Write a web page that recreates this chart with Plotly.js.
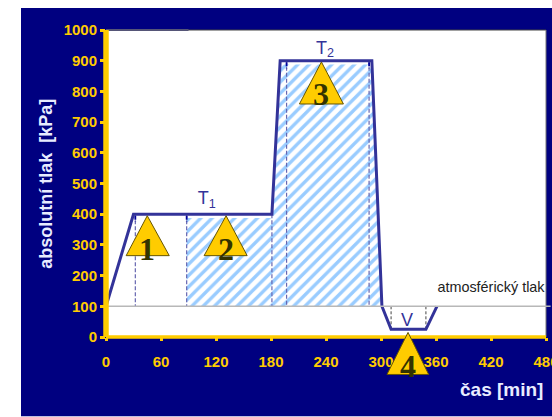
<!DOCTYPE html>
<html><head><meta charset="utf-8">
<script src="https://cdn.plot.ly/plotly-3.0.1.min.js"></script>
<style>html,body{margin:0;padding:0;background:#fff;overflow:hidden}</style></head>
<body><div id="c" style="width:552px;height:417px"></div>
<script>
const profileX=[0,30,181,190,290,301,311,349,361];
const profileY=[100,400,400,900,900,100,25,25,100];
const hatchX=[88,88,182,191,289,300];
const hatchY=[100,388,388,888,888,100];
const atmX=[0,485];
const atmY=[100,100];
const dashBlueX=[32,32,null,88,88,null,181,181,null,197,197,null,287,287];
const dashBlueY=[400,100,null,400,100,null,400,100,null,900,100,null,900,100];
const dashGreyX=[311,311,null,349,349];
const dashGreyY=[100,25,null,100,25];
const stubX=[32,32,null,88,88,null,197,197,null,287,287];
const stubY=[395,375,null,395,375,null,895,875,null,895,875];
const triLeftX=[22,107,211,306.5];
const triApexX=[45,131,235,329.5];
const triRightX=[69,154,259,352];
const triBaseY=[265,265,759,-122];
const triApexY=[395,395,896,15];
const numX=[45,131,235,329.5];
const numY=[288,288,792,-93];
const numText=['1','2','3','4'];
const labelX=[110,239,328.5];
const labelY=[447,938,50];
const labelText=['T<sub>1</sub>','T<sub>2</sub>','V'];
const atmTextX=[420];
const atmTextY=[158];
const atmText=['atmosférický tlak'];
const xTicks=[0,60,120,180,240,300,360,420,480];
const yTicks=[0,100,200,300,400,500,600,700,800,900,1000];
const yAxisX=[0,0];const yAxisY=[0,1000];
const xAxisX=[0,480];const xAxisY=[0,0];
const topX=[0,90];const topY=[1000,1000];
const navy='#000080',yellow='#ffcc00',blue='#333399';
const font='"Liberation Sans",Arial,sans-serif';
const clip={cliponaxis:false,hoverinfo:'skip',showlegend:false,type:'scatter'};
const traces=[
 {...clip,x:hatchX,y:hatchY,mode:'none',fill:'toself',fillcolor:'#fff',
  fillpattern:{shape:'/',size:8,solidity:0.42,fgcolor:'#99ccff',bgcolor:'#ffffff'}},
 {...clip,x:dashBlueX,y:dashBlueY,mode:'lines',line:{color:'#6666b0',width:1.2,dash:'4px 2px'}},
 {...clip,x:stubX,y:stubY,mode:'lines',line:{color:'#000099',width:1.8,dash:'4px 2px'}},
 {...clip,x:dashGreyX,y:dashGreyY,mode:'lines',line:{color:'#444',width:1,dash:'3px 2px'}},
 {...clip,x:profileX,y:profileY,mode:'lines',line:{color:blue,width:3}},
 {...clip,x:labelX,y:labelY,mode:'text',text:labelText,textposition:'middle center',
  textfont:{family:font,size:18,color:blue}},
 {...clip,x:atmTextX,y:atmTextY,mode:'text',text:atmText,textposition:'middle center',
  textfont:{family:font,size:14.4,color:'#222'}}
];
const px=v=>v/480, py=v=>v/1000;
const lineShape=(xs,ys,color,width)=>({type:'line',layer:'above',xref:'paper',yref:'paper',
  x0:px(xs[0]),x1:px(xs[1]),y0:py(ys[0]),y1:py(ys[1]),line:{color,width}});
const triShapes=triApexX.map((_,i)=>({type:'path',layer:'above',xref:'paper',yref:'paper',
  path:`M${px(triLeftX[i])},${py(triBaseY[i])} L${px(triApexX[i])},${py(triApexY[i])} L${px(triRightX[i])},${py(triBaseY[i])} Z`,
  fillcolor:yellow,line:{color:'#665500',width:1}}));
const layout={
 width:552,height:417,margin:{l:106,r:6,t:30,b:79.5},autosize:false,
 paper_bgcolor:'#ffffff',plot_bgcolor:'#ffffff',showlegend:false,
 xaxis:{range:[0,480],tickvals:xTicks,ticktext:xTicks.map(String),showgrid:false,zeroline:false,showline:false,
  ticks:'outside',ticklen:3,tickwidth:3,tickcolor:yellow,ticklabelstandoff:8,ticklabeloverflow:'allow',
  tickfont:{family:font,size:15,weight:700,color:yellow}},
 yaxis:{range:[0,1000],tickvals:yTicks,ticktext:yTicks.map(String),showgrid:false,zeroline:false,showline:false,
  ticks:'outside',ticklen:5,tickwidth:3,tickcolor:yellow,
  tickfont:{family:font,size:15,weight:700,color:yellow}},
 shapes:[
  {type:'rect',layer:'below',xref:'paper',yref:'paper',x0:-85/440,x1:1.02,y0:-79.5/307.5,y1:1+22/307.5,fillcolor:navy,line:{width:0}},
  {type:'rect',layer:'below',xref:'paper',yref:'paper',x0:0,x1:1,y0:0,y1:1,fillcolor:'#fff',line:{width:0}},
  {type:'line',layer:'below',xref:'paper',yref:'paper',x0:0,x1:1,y0:1,y1:1,line:{color:'#444',width:1}},
  {type:'line',layer:'below',xref:'paper',yref:'paper',x0:1,x1:1,y0:0,y1:1,line:{color:'#777',width:1}},
  lineShape(atmX,atmY,'#b8b8b8',1.6),
  lineShape(topX,topY,'#555577',2),
  lineShape(yAxisX,yAxisY,yellow,5.5),
  lineShape(xAxisX,xAxisY,yellow,3.5),
  ...triShapes
 ],
 annotations:[
  {xref:'paper',yref:'paper',xanchor:'center',yanchor:'middle',x:-60/440,y:(337.5-184)/307.5,text:'absolutní tlak  [kPa]',textangle:-90,showarrow:false,
   font:{family:font,size:18,weight:700,color:'#e8ecff'}},
  {xref:'paper',yref:'paper',xanchor:'center',yanchor:'middle',x:(501-106)/440,y:(337.5-390)/307.5,text:'čas [min]',showarrow:false,
   font:{family:font,size:19,weight:700,color:'#e8ecff'}},
  ...numX.map((v,i)=>({xref:'paper',yref:'paper',xanchor:'center',yanchor:'middle',x:px(v),y:py(numY[i]),text:numText[i],showarrow:false,
   font:{family:'"Liberation Serif",serif',size:32,weight:700,color:'#333300'}}))
 ]
};
Plotly.newPlot('c',traces,layout,{displayModeBar:false,staticPlot:true});
</script></body></html>
